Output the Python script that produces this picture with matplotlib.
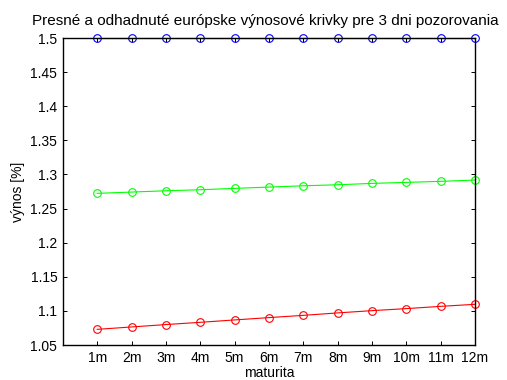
# Presne a odhadnute europske vynosove krivky (3 dni pozorovania)

import numpy as np
from matplotlib import pyplot as plt

plt.rcParams['font.family'] = 'Liberation Sans'
plt.rcParams['font.size'] = 10
plt.rcParams['xtick.direction'] = 'in'
plt.rcParams['ytick.direction'] = 'in'

maturity = np.arange(1, 13)
tick_labels = ["1m", "2m", "3m", "4m", "5m", "6m", "7m", "8m", "9m", "10m", "11m", "12m"]

day1 = [1.5, 1.5, 1.5, 1.5, 1.5, 1.5, 1.5, 1.5, 1.5, 1.5, 1.5, 1.5]
day2 = [1.2723, 1.2742, 1.2761, 1.2776, 1.2796, 1.2815, 1.2834, 1.2849, 1.2869, 1.2884, 1.2899, 1.2918]
day3 = [1.0730, 1.0765, 1.0800, 1.0833, 1.0868, 1.0902, 1.0935, 1.0971, 1.1004, 1.1034, 1.1067, 1.1097]

fig = plt.figure(figsize=(5.07, 3.8), dpi=100)
ax = fig.add_axes([0.124, 0.092, 0.813, 0.808])

for y, c in zip([day1, day2, day3], ["#0000ff", "#00ff00", "#ff0000"]):
    ax.plot(maturity, y, "-o", color=c, lw=0.8, ms=5.5, mfc="none", mew=0.8, clip_on=False)

ax.set_xlim(0, 12)
ax.set_ylim(1.05, 1.5)
ax.set_xticks(maturity)
ax.set_xticklabels(tick_labels)
ax.set_yticks(np.arange(1.05, 1.501, 0.05))
ax.set_yticklabels(["1.05", "1.1", "1.15", "1.2", "1.25", "1.3", "1.35", "1.4", "1.45", "1.5"])
ax.tick_params(top=True, right=True, length=3, width=0.7, pad=4)
for s in ax.spines.values():
    s.set_linewidth(1.0)

ax.set_xlabel("maturita", labelpad=1)
ax.set_ylabel("výnos [%]", labelpad=4)
ax.set_title("Presné a odhadnuté európske výnosové krivky pre 3 dni pozorovania",
             fontsize=11, pad=9, x=0.49)

fig.savefig("out.png", dpi=100)
